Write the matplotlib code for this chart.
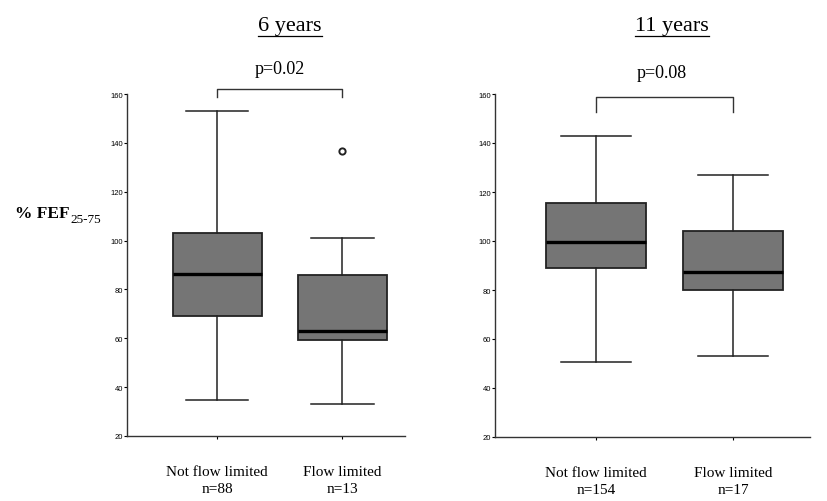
import matplotlib
matplotlib.use("Agg")
import matplotlib.pyplot as plt
from matplotlib.lines import Line2D

# --- data (% FEF25-75) ---
grupos = ["Not flow limited", "Flow limited"]
n_6 = [88, 13]
n_11 = [154, 17]

# 6 years: [not flow limited, flow limited]
whislo_6 = [34.7, 33.1]
q1_6 = [69.1, 59.3]
med_6 = [86.3, 63.0]
q3_6 = [103.1, 85.9]
whishi_6 = [153.0, 101.1]
fliers_6 = [[], [136.7]]

# 11 years
whislo_11 = [50.6, 53.1]
q1_11 = [89.0, 80.0]
med_11 = [99.6, 87.3]
q3_11 = [115.5, 104.1]
whishi_11 = [142.9, 126.9]
fliers_11 = [[], []]

titulos = ["6 years", "11 years"]
pvalores = ["p=0.02", "p=0.08"]
yticks = [20, 40, 60, 80, 100, 120, 140, 160]

SERIF = "Liberation Serif"
CINZA = "#757575"


def stats(wl, a, m, b, wh, fl):
    return [dict(whislo=wl[i], q1=a[i], med=m[i], q3=b[i], whishi=wh[i],
                 fliers=fl[i]) for i in range(len(wl))]


def painel(ax, st, ns, largura, xlim, bracket_y, bracket_tick):
    ax.bxp(st, positions=[1, 2], widths=largura, patch_artist=True,
           showfliers=True,
           boxprops=dict(facecolor=CINZA, edgecolor="#222222", linewidth=1.3),
           medianprops=dict(color="black", linewidth=2.4),
           whiskerprops=dict(color="#222222", linewidth=1.1),
           capprops=dict(color="#222222", linewidth=1.1),
           capwidths=largura * 0.7,
           flierprops=dict(marker="o", markersize=4.5, markerfacecolor="white",
                           markeredgecolor="#222222", markeredgewidth=1.4))
    ax.set_xlim(*xlim)
    ax.set_ylim(20, 160)
    ax.set_yticks(yticks)
    ax.set_yticklabels([str(t) for t in yticks], fontsize=5.5,
                       family="Liberation Sans")
    ax.tick_params(axis="y", length=2, width=0.8, pad=1)
    ax.tick_params(axis="x", length=2, width=0.8, pad=19)
    ax.set_xticks([1, 2])
    ax.set_xticklabels([f"{g}\nn={n}" for g, n in zip(grupos, ns)],
                       fontsize=11, family=SERIF, linespacing=1.35)
    for s in ["top", "right"]:
        ax.spines[s].set_visible(False)
    for s in ["left", "bottom"]:
        ax.spines[s].set_linewidth(1.0)
        ax.spines[s].set_color("#333333")
    # bracket for the p-value
    ax.plot([1, 1, 2, 2], [bracket_tick, bracket_y, bracket_y, bracket_tick],
            color="#333333", linewidth=1.0, clip_on=False)


fig = plt.figure(figsize=(8.28, 5.02), dpi=100)
ax1 = fig.add_axes([127 / 828, 1 - 437 / 502, 278 / 828, 342 / 502])
ax2 = fig.add_axes([495 / 828, 1 - 438 / 502, 315 / 828, 343 / 502])

painel(ax1, stats(whislo_6, q1_6, med_6, q3_6, whishi_6, fliers_6), n_6,
       0.71, (0.28, 2.50), 162.0, 158.8)
painel(ax2, stats(whislo_11, q1_11, med_11, q3_11, whishi_11, fliers_11), n_11,
       0.73, (0.263, 2.56), 158.8, 152.7)

# titles (underlined) and p-values
titulo_txt = []
for cx, t, p, py in [(290, titulos[0], pvalores[0], 70),
                     (672, titulos[1], pvalores[1], 73)]:
    tt = fig.text(cx / 828, 1 - 26 / 502, t, ha="center", va="center",
                  fontsize=16, family=SERIF)
    titulo_txt.append(tt)
    fig.text(cx / 828 - 0.012, 1 - py / 502, p, ha="center", va="center",
             fontsize=13, family=SERIF)

# y label: "% FEF" bold with subscript "25-75"
lab = fig.text(15 / 828, 1 - 218 / 502, "% FEF", ha="left", va="baseline",
               fontsize=12.5, family=SERIF, weight="bold")

fig.canvas.draw()
r = fig.canvas.get_renderer()
inv = fig.transFigure.inverted()
for tt in titulo_txt:
    bb = tt.get_window_extent(r).transformed(inv)
    yl = bb.y0 - 0.002
    fig.add_artist(Line2D([bb.x0, bb.x1], [yl, yl], transform=fig.transFigure,
                          color="black", linewidth=0.9))
bl = lab.get_window_extent(r).transformed(inv)
fig.text(bl.x1 + 0.001, 1 - 223 / 502, "25-75", ha="left", va="baseline",
         fontsize=9.5, family=SERIF)

fig.savefig("out.png", dpi=100)
